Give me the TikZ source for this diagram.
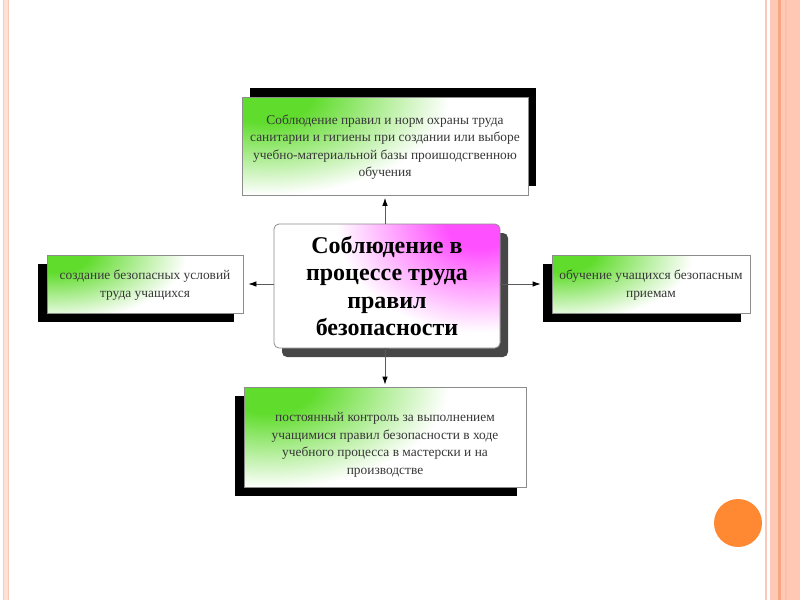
\documentclass[tikz,border=0pt]{standalone}
\usepackage{fontspec}
\setmainfont{Liberation Serif}
\usetikzlibrary{arrows.meta,shadows}
\definecolor{grn}{RGB}{96,220,44}
\definecolor{mag}{RGB}{255,80,255}
\definecolor{txt}{RGB}{55,55,55}
\definecolor{bord}{RGB}{140,140,140}
\definecolor{pinkl}{RGB}{252,200,184}
\definecolor{pinkf}{RGB}{253,226,216}
\definecolor{salmon}{RGB}{255,200,180}
\definecolor{salmond}{RGB}{245,166,130}
\definecolor{orng}{RGB}{255,136,51}
\pgfdeclareradialshading{greenrad}{\pgfpoint{0bp}{0bp}}{color(0bp)=(grn); color(4.5bp)=(grn); color(17.5bp)=(white); color(50bp)=(white)}
\pgfdeclareradialshading{magrad}{\pgfpoint{0bp}{0bp}}{color(0bp)=(mag); color(4bp)=(mag); color(17.5bp)=(white); color(50bp)=(white)}
\tikzset{
  gbox/.style 2 args={draw=bord, line width=0.8pt, fill=white, inner sep=0pt,
     path picture={\shade[shading=greenrad] (path picture bounding box.north west) ellipse [x radius=#1, y radius=#2];}},
  shbl/.style={general shadow={fill=black, shadow xshift=-9pt, shadow yshift=-9pt}},
  shtr/.style={general shadow={fill=black, shadow xshift=8pt, shadow yshift=9pt}},
  txtnode/.style={text=txt, font=\fontsize{13.4}{17.5}\selectfont, align=center, inner sep=0pt},
  cbox/.style={draw=bord, line width=0.8pt, rounded corners=5pt, fill=white,
     path picture={\shade[shading=magrad] (path picture bounding box.north east) ellipse [x radius=185, y radius=155];},
     general shadow={fill=black!72, shadow xshift=8pt, shadow yshift=-9pt},
     font=\bfseries\fontsize{24}{27.5}\selectfont, align=center, inner sep=0pt},
  conn/.style={draw=black!65, line width=0.8pt, -{Latex[length=8pt,width=5.5pt,fill=black,color=black]}}
}
\begin{document}
\begin{tikzpicture}[x=1pt,y=-1pt]
\useasboundingbox (0,0) rectangle (800,600);
% slide decoration
\fill[pinkf] (3,0) rectangle (9,600);
\draw[pinkl, line width=1.6pt] (3.5,0) -- (3.5,600) (8.5,0) -- (8.5,600);
\fill[pinkl] (765,0) rectangle (767,600);
\fill[pinkl] (770,0) rectangle (773,600);
\fill[salmon] (773,0) rectangle (800,600);
\fill[salmond] (778,0) rectangle (781,600);
\fill[pinkl!80!salmond] (785,0) rectangle (786.5,600);
\fill[orng] (738,523) circle (24);
% boxes
\node[gbox={240}{140}, shtr, minimum width=286pt, minimum height=98pt] (top) at (385,146) {};
\node[txtnode] (toptext) at (385,147) {Соблюдение правил и норм охраны труда\\санитарии и гигиены при создании или выборе\\учебно-материальной базы проишодсгвенною\\обучения};
\node[gbox={180}{95}, shbl, minimum width=196pt, minimum height=58pt] (left) at (145,284) {};
\node[txtnode] (lefttext) at (145,285) {создание безопасных условий\\труда учащихся};
\node[gbox={182}{95}, shbl, minimum width=198pt, minimum height=58pt] (right) at (651,284) {};
\node[txtnode] (righttext) at (651,285) {обучение учащихся безопасным\\приемам};
\node[gbox={235}{145}, shbl, minimum width=282pt, minimum height=100pt] (bottom) at (385,437) {};
\node[txtnode] (bottomtext) at (385,445) {постоянный контроль за выполнением\\учащимися правил безопасности в ходе\\учебного процесса в мастерски и на\\производстве};
\node[cbox, minimum width=226pt, minimum height=124pt] (c) at (387,286) {Соблюдение в\\процессе труда\\правил\\безопасности};
% connectors
\draw[conn, shorten >=2.5pt] (c.north -| top.south) -- (top.south);
\draw[conn, shorten >=2pt] (c.south -| bottom.north) -- (bottom.north);
\draw[conn, shorten >=5pt] (c.west |- left.east) -- (left.east);
\draw[conn, shorten >=11pt] (c.east |- right.west) -- (right.west);
\end{tikzpicture}
\end{document}
